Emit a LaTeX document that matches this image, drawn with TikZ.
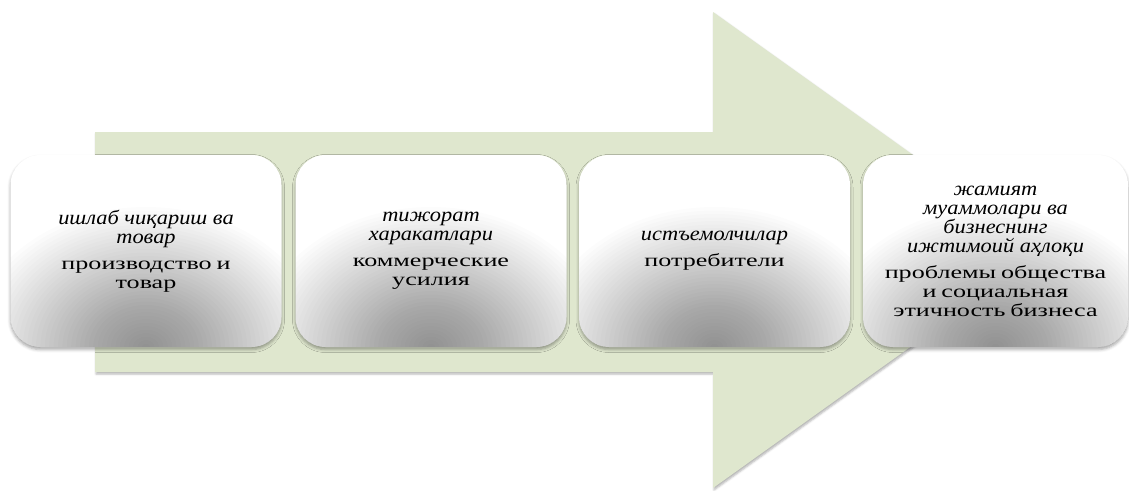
\documentclass[tikz,border=0pt]{standalone}
\usepackage{fontspec}
\setmainfont{Liberation Serif}[
  UprightFeatures={FakeStretch=1.45, WordSpace=0.75},
  ItalicFeatures={FakeStretch=1.12}]
\usetikzlibrary{shadows.blur}

\definecolor{arrowgreen}{RGB}{223,231,206}

% italic Uzbek heading and upright Russian translation
\newcommand\uzline{\fontsize{20}{19}\selectfont\itshape}
\newcommand\ruline{\fontsize{18}{19}\selectfont\upshape}

\tikzset{
  stagebox/.style={
    rounded corners=30pt, minimum height=192pt, minimum width=271pt,
    inner sep=0pt, align=center, fill=white,
    font=\fontsize{18}{19}\selectfont,
    blur shadow={shadow xshift=0pt, shadow yshift=-2.5pt,
                 shadow blur radius=3pt, shadow opacity=35},
    % grey glow rising from the lower edge, built from stacked ellipses
    path picture={
      \foreach \k in {1,...,40}{
        \fill[black, opacity=0.0102] (path picture bounding box.south)
          ellipse ({\k*4.4pt} and {\k*3.5pt});
      }
    }
  },
  flowarrow/.style={
    fill=arrowgreen,
    blur shadow={shadow xshift=1pt, shadow yshift=-2pt,
                 shadow blur radius=2pt, shadow opacity=30}
  }
}

\begin{document}
\begin{tikzpicture}[x=1pt, y=-1pt]
\useasboundingbox (0,0) rectangle (1129,490);

% the large block arrow behind the stages
\path[flowarrow] (95,132) -- (713,132) -- (713,12) -- (1046,250)
  -- (713,488) -- (713,372) -- (95,372) -- cycle;

\node[stagebox] (s1) at (146,251)
  {\uzline ишлаб чиқариш ва\\ \uzline товар\\[7pt]
   \ruline производство и\\ \ruline товар};
\node[stagebox] (s2) at (431,251)
  {\uzline тижорат\\ \uzline харакатлари\\[7pt]
   \ruline коммерческие\\ \ruline усилия};
\node[stagebox] (s3) at (714.5,251)
  {\uzline истъемолчилар\\[7pt]
   \ruline потребители};
\node[stagebox, minimum width=265pt] (s4) at (995.5,251)
  {\uzline жамият\\ \uzline муаммолари ва\\ \uzline бизнеснинг\\
   \uzline ижтимоий аҳлоқи\\[7pt]
   \ruline проблемы общества\\ \ruline и социальная\\
   \ruline этичность бизнеса};
\end{tikzpicture}
\end{document}
